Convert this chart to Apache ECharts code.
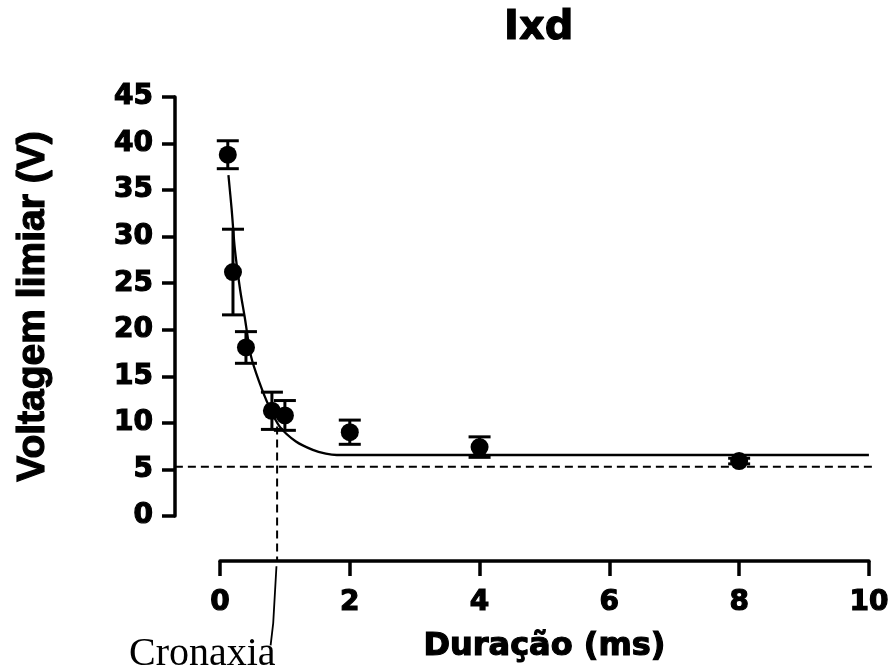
<!DOCTYPE html>
<html>
<head>
<meta charset="utf-8">
<script src="https://cdn.jsdelivr.net/npm/echarts@6/dist/echarts.min.js"></script>
<style>
html,body{margin:0;padding:0;background:#fff;}
#chart{width:892px;height:671px;}
</style>
</head>
<body>
<div id="chart"></div>
<script>
// ---- data ----
var durations = [0.12, 0.2, 0.4, 0.8, 1.0, 2, 4, 8];           // ms
var meanVoltage = [38.8, 26.2, 18.1, 11.3, 10.8, 9.0, 7.4, 5.9]; // V
var semVoltage = [1.5, 4.6, 1.7, 2.0, 1.6, 1.3, 1.1, 0.3];       // V
var fitCurve = [[0.13,36.6],[0.18,32.9],[0.23,28.6],[0.31,24.3],[0.38,21.4],[0.48,17.1],
                [0.61,14.3],[0.76,11.7],[0.92,9.6],[1.17,8.0],[1.43,7.1],[1.63,6.7],[1.8,6.55],[10,6.55]];
var rheobaseLine = [[-0.69, 5.3], [10, 5.3]];
var cronaxiaLine = [[0.88, 9.6], [0.88, -4.8]];
var cronaxiaPointer = [[0.87, -5.4], [0.82, -11.5], [0.78, -13.9]];
var xTicks = [0, 2, 4, 6, 8, 10];
var yTicks = [0, 5, 10, 15, 20, 25, 30, 35, 40, 45];

var points = durations.map(function(d, i){ return [d, meanVoltage[i]]; });
var errors = durations.map(function(d, i){ return [d, meanVoltage[i]-semVoltage[i], meanVoltage[i]+semVoltage[i]]; });

var heavy = {textBorderColor:'#000', textBorderWidth:1.2};
var tickFont = Object.assign({fontFamily:'DejaVu Sans', fontWeight:'bold', fontSize:28, color:'#000'}, heavy);

// layout: the y axis line sits 45px left of x = 0 (offset axes)
var axisGap = 45;
var plotLeft = 220, plotRight = 18, plotTop = 97, plotBottom = 155;
var xSpanPx = 892 - plotRight - plotLeft;
var xExtMin = -axisGap * (xTicks[xTicks.length-1] - xTicks[0]) / xSpanPx;

var chart = echarts.init(document.getElementById('chart'), null, {renderer:'canvas'});
chart.setOption({
  animation:false,
  backgroundColor:'#fff',
  title:{
    text:'Ixd', left:499, top:4,
    textStyle:Object.assign({fontFamily:'DejaVu Sans', fontWeight:'bold', fontSize:40, color:'#000'}, heavy)
  },
  grid:[
    {left:plotLeft, right:plotRight, top:plotTop, bottom:plotBottom, containLabel:false},
    {left:plotLeft-axisGap, right:plotRight, top:plotTop, bottom:plotBottom, containLabel:false}
  ],
  xAxis:[{
    type:'value', min:xTicks[0], max:xTicks[xTicks.length-1], interval:2, offset:axisGap,
    axisLine:{show:true, onZero:false, lineStyle:{color:'#000', width:3.5}},
    axisTick:{show:true, length:15, lineStyle:{color:'#000', width:3.5}},
    axisLabel:Object.assign({margin:28}, tickFont),
    splitLine:{show:false},
    name:'Duração (ms)', nameLocation:'middle', nameGap:70,
    nameTextStyle:Object.assign({fontFamily:'DejaVu Sans', fontWeight:'bold', fontSize:32, color:'#000'}, heavy)
  },{
    gridIndex:1, type:'value', min:xExtMin, max:xTicks[xTicks.length-1], show:false
  }],
  yAxis:[{
    type:'value', min:yTicks[0], max:yTicks[yTicks.length-1], interval:5, offset:axisGap,
    axisLine:{show:true, onZero:false, lineStyle:{color:'#000', width:3.5}},
    axisTick:{show:true, length:13, lineStyle:{color:'#000', width:3.5}},
    axisLabel:Object.assign({margin:22}, tickFont),
    splitLine:{show:false},
    name:'Voltagem limiar (V)', nameLocation:'middle', nameGap:122, nameRotate:90,
    nameTextStyle:Object.assign({fontFamily:'Liberation Sans', fontWeight:'bold', fontSize:39, color:'#000'}, heavy)
  },{
    gridIndex:1, type:'value', min:yTicks[0], max:yTicks[yTicks.length-1], show:false
  }],
  graphic:[{
    type:'text', left:129, top:634,
    style:{text:'Cronaxia', font:'40px "Liberation Serif"', fill:'#000'}
  }],
  series:[
    {type:'line', xAxisIndex:1, yAxisIndex:1, data:rheobaseLine, clip:false, symbol:'none', silent:true,
     lineStyle:{color:'#000', width:2, type:[8,5]}},
    {type:'line', data:cronaxiaLine, clip:false, symbol:'none', silent:true,
     lineStyle:{color:'#000', width:2, type:[8,5]}},
    {type:'line', data:cronaxiaPointer, clip:false, symbol:'none', silent:true,
     lineStyle:{color:'#000', width:1.8}},
    {type:'line', data:fitCurve, smooth:0.3, symbol:'none', silent:true,
     lineStyle:{color:'#000', width:2.3}},
    {type:'custom', data:errors, clip:false, encode:{x:0, y:[1,2]}, z:3,
     renderItem:function(params, api){
       var x = api.value(0), lo = api.value(1), hi = api.value(2);
       var pLo = api.coord([x, lo]), pHi = api.coord([x, hi]);
       var hw = 11, st = {stroke:'#000', lineWidth:3};
       return {type:'group', children:[
         {type:'line', shape:{x1:pLo[0], y1:pLo[1], x2:pHi[0], y2:pHi[1]}, style:st},
         {type:'line', shape:{x1:pHi[0]-hw, y1:pHi[1], x2:pHi[0]+hw, y2:pHi[1]}, style:st},
         {type:'line', shape:{x1:pLo[0]-hw, y1:pLo[1], x2:pLo[0]+hw, y2:pLo[1]}, style:st}
       ]};
     }},
    {type:'scatter', data:points, symbol:'circle', symbolSize:18, z:4,
     itemStyle:{color:'#000', opacity:1}}
  ]
});
</script>
</body>
</html>
